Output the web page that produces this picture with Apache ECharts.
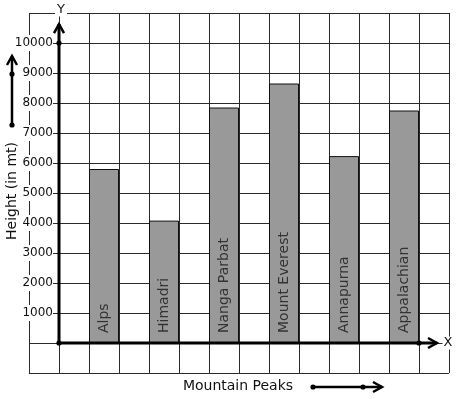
<!DOCTYPE html>
<html><head><meta charset="utf-8">
<script src="https://cdn.jsdelivr.net/npm/echarts@6/dist/echarts.min.js"></script>
<style>html,body{margin:0;padding:0;background:#fff}#c{width:457px;height:399px}</style>
</head><body><div id="c"></div>
<script>
var categories = ['Alps', 'Himadri', 'Nanga Parbat', 'Mount Everest', 'Annapurna', 'Appalachian'];
var heights = [5800, 4080, 7850, 8650, 6230, 7750];
var yTicks = [1000, 2000, 3000, 4000, 5000, 6000, 7000, 8000, 9000, 10000];
var xAxisTitle = 'Mountain Peaks';
var yAxisTitle = 'Height (in mt)';

var FONT = 'DejaVu Sans';
var chart = echarts.init(document.getElementById('c'), null, {renderer: 'canvas'});
var barData = heights.map(function (v, i) { return [1.5 + 2 * i, v]; });

chart.setOption({
  animation: false,
  backgroundColor: '#fff',
  grid: {left: 29, top: 13, width: 420, height: 360, containLabel: false},
  xAxis: {
    type: 'value', min: -1, max: 13, interval: 1,
    axisLine: {show: false}, axisTick: {show: false}, axisLabel: {show: false},
    splitLine: {show: true, lineStyle: {color: '#2a2a2a', width: 1}}
  },
  yAxis: {
    type: 'value', min: -1000, max: 11000, interval: 1000, position: 'left', offset: -30,
    axisLine: {show: false}, axisTick: {show: false},
    axisLabel: {
      margin: 6, fontFamily: FONT, fontSize: 12, color: '#111',
      backgroundColor: '#fff', padding: [2, 0, 2, 0],
      formatter: function (v) { return yTicks.indexOf(v) >= 0 ? String(v) : ''; }
    },
    splitLine: {show: true, lineStyle: {color: '#2a2a2a', width: 1}}
  },
  series: [{
    type: 'bar', data: barData, barWidth: 30, z: 2,
    itemStyle: {color: '#999999', borderColor: '#111', borderWidth: 1},
    label: {
      show: true, position: 'insideBottom', rotate: 90, align: 'left', verticalAlign: 'middle',
      distance: 10, fontFamily: FONT, fontSize: 14, color: '#333',
      formatter: function (p) { return categories[p.dataIndex]; }
    }
  }]
});

var o = chart.convertToPixel({gridIndex: 0}, [0, 0]);
var yTop = chart.convertToPixel({gridIndex: 0}, [0, 10630]);
var y10k = chart.convertToPixel({gridIndex: 0}, [0, 10000]);
var xEnd = chart.convertToPixel({gridIndex: 0}, [12.6, 0]);
var x12 = chart.convertToPixel({gridIndex: 0}, [12, 0]);

function chevronUp(x, y) { return {type: 'polyline', shape: {points: [[x - 5, y + 9], [x, y], [x + 5, y + 9]]}, style: {stroke: '#000', lineWidth: 2.5, fill: null}, z: 10}; }
function chevronRight(x, y) { return {type: 'polyline', shape: {points: [[x - 9, y - 5], [x, y], [x - 9, y + 5]]}, style: {stroke: '#000', lineWidth: 2.5, fill: null}, z: 10}; }
function dot(x, y) { return {type: 'circle', shape: {cx: x, cy: y, r: 2.6}, style: {fill: '#000'}, z: 11}; }
function line(x1, y1, x2, y2, w) { return {type: 'line', shape: {x1: x1, y1: y1, x2: x2, y2: y2}, style: {stroke: '#000', lineWidth: w}, z: 10}; }

var g = [
  line(o[0], o[1], o[0], yTop[1], 3),
  chevronUp(o[0], yTop[1]),
  line(o[0], o[1], xEnd[0], o[1], 3),
  chevronRight(xEnd[0], o[1]),
  dot(o[0], o[1]), dot(y10k[0], y10k[1]), dot(x12[0], x12[1]),
  {type: 'text', x: o[0] + 2, y: 10, style: {text: 'Y', font: '13px ' + FONT, fill: '#111', align: 'center', verticalAlign: 'middle', backgroundColor: '#fff', padding: [0, 2]}, z: 12},
  {type: 'text', x: 448, y: o[1], style: {text: 'X', font: '13px ' + FONT, fill: '#111', align: 'center', verticalAlign: 'middle', backgroundColor: '#fff', padding: [0, 1]}, z: 12},
  {type: 'text', x: 12, y: 191, rotation: Math.PI / 2, style: {text: yAxisTitle, font: '14px ' + FONT, fill: '#111', align: 'center', verticalAlign: 'middle'}, z: 12},
  {type: 'text', x: 238, y: 386, style: {text: xAxisTitle, font: '14px ' + FONT, fill: '#111', align: 'center', verticalAlign: 'middle'}, z: 12},
  line(12, 125, 12, 56, 2.5), chevronUp(12, 56), dot(12, 125), dot(12, 74),
  line(313, 387, 382, 387, 2.5), chevronRight(382, 387), dot(313, 387), dot(363, 387)
];
chart.setOption({graphic: g});
</script></body></html>
